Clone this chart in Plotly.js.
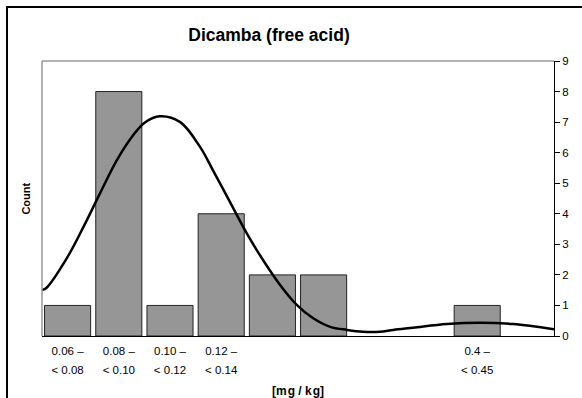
<!DOCTYPE html>
<html>
<head>
<meta charset="utf-8">
<script src="https://cdn.plot.ly/plotly-3.0.1.min.js"></script>
<style>
html,body{margin:0;padding:0;background:#fff;}
#wrap{position:relative;width:582px;height:398px;overflow:hidden;}
#chart{position:absolute;left:0;top:0;width:582px;height:398px;}
#frame{position:absolute;left:6px;top:6px;width:600px;height:420px;border-left:2px solid #000;border-top:2px solid #000;pointer-events:none;}
</style>
</head>
<body>
<div id="wrap"><div id="chart"></div><div id="frame"></div></div>
<script>
// Histogram bins (category slots) and counts
const binIndex = [0,1,2,3,4,5,6,7,8,9];
const counts   = [1,8,1,4,2,2,0,0,1,0];
const labelLine1 = ["0.06 –","0.08 –","0.10 –","0.12 –","","","","","0.4 –",""];
const labelLine2 = ["< 0.08","< 0.10","< 0.12","< 0.14","","","","","< 0.45",""];

// Fitted density curve (x in bin units, y in counts)
const curveX = [-0.5,-0.41,0.0,0.31,0.63,0.96,1.28,1.51,1.80,2.20,2.59,2.84,3.17,3.50,3.82,4.15,4.48,4.79,5.13,5.46,5.77,6.1,6.36,6.75,7.41,8.05,8.70,9.5];
const curveY = [1.5,1.58,2.59,3.57,4.66,5.75,6.57,6.99,7.19,7.0,6.18,5.42,4.39,3.36,2.48,1.67,1.01,0.59,0.30,0.20,0.14,0.14,0.20,0.27,0.39,0.43,0.39,0.22];

const yTicks = [0,1,2,3,4,5,6,7,8,9];

const FONT = "Arial, 'Liberation Sans', sans-serif";

const traces = [
  {
    type: 'bar', x: binIndex, y: counts,
    marker: {color: '#969696', line: {color: '#222', width: counts.map(c => c > 0 ? 1 : 0)}},
    width: 0.9, hoverinfo: 'skip', xaxis: 'x', yaxis: 'y'
  },
  {
    type: 'scatter', mode: 'lines', x: curveX, y: curveY,
    line: {color: '#000', width: 2.5, shape: 'spline', smoothing: 1},
    hoverinfo: 'skip', xaxis: 'x', yaxis: 'y', cliponaxis: true
  },
  {
    type: 'scatter', mode: 'markers', x: binIndex, y: counts.map(()=>null),
    marker: {opacity: 0}, xaxis: 'x2', yaxis: 'y', hoverinfo: 'skip', showlegend: false
  }
];

const layout = {
  width: 582, height: 398,
  margin: {l: 42, r: 28, t: 61, b: 62},
  paper_bgcolor: '#fff', plot_bgcolor: '#fff',
  showlegend: false,
  font: {family: FONT, color: '#000', size: 11},
  title: {
    text: '<b>Dicamba (free acid)</b>',
    font: {family: FONT, size: 17.5, color: '#000'},
    x: 269/582, xanchor: 'center', xref: 'container',
    y: 1 - 35/398, yanchor: 'middle', yref: 'container'
  },
  xaxis: {
    range: [-0.5, 9.5], tickmode: 'array', tickvals: binIndex, ticktext: labelLine1,
    ticks: '', showgrid: false, zeroline: false,
    showline: true, linecolor: '#000', linewidth: 1,
    tickfont: {family: FONT, size: 11.5, color: '#000'},
    ticklabelstandoff: 4,
    title: {text: '<b>[m\u200ag / k\u200ag]</b>', font: {family: FONT, size: 12, color: '#000'}, standoff: 30}
  },
  xaxis2: {
    overlaying: 'x', matches: 'x', side: 'bottom', anchor: 'y',
    range: [-0.5, 9.5], tickmode: 'array', tickvals: binIndex, ticktext: labelLine2,
    ticks: '', showgrid: false, zeroline: false, showline: false,
    tickfont: {family: FONT, size: 11.5, color: '#000'},
    ticklabelstandoff: 25
  },
  yaxis: {
    range: [0, 9], side: 'right', tickmode: 'array', tickvals: yTicks,
    ticks: 'outside', ticklen: 5, tickcolor: '#000', tickwidth: 1,
    showgrid: false, zeroline: false, showline: true, linecolor: '#000', linewidth: 1,
    tickfont: {family: FONT, size: 11.5, color: '#000'}
  },
  annotations: [
    {text: '<b>Count</b>', xref: 'paper', yref: 'paper', x: -0.033, y: 0.5, textangle: -90,
     showarrow: false, xanchor: 'center', yanchor: 'middle', font: {family: FONT, size: 11, color: '#000'}}
  ],
  shapes: [
    {type: 'line', xref: 'paper', yref: 'paper', x0: 0, x1: 1, y0: 1, y1: 1, line: {color: '#999', width: 1.5}},
    {type: 'line', xref: 'paper', yref: 'paper', x0: 0, x1: 0, y0: 0, y1: 1, line: {color: '#999', width: 1.5}}
  ]
};

Plotly.newPlot('chart', traces, layout, {staticPlot: true, displayModeBar: false});
</script>
</body>
</html>
